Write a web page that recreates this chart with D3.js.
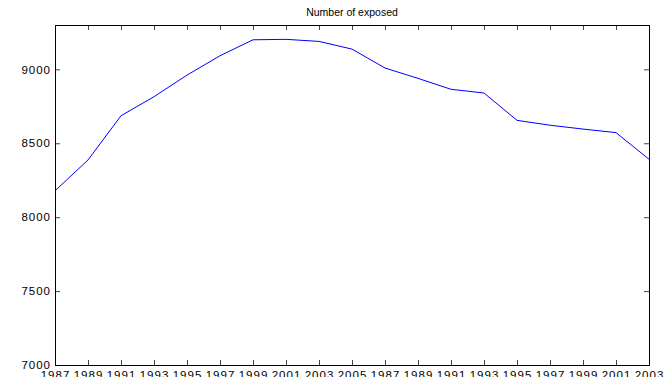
<!DOCTYPE html>
<html>
<head>
<meta charset="utf-8">
<script src="https://cdn.jsdelivr.net/npm/d3@7"></script>
<style>
  body { margin: 0; background: #fff; }
  svg text { font-family: "Liberation Sans", Arial, sans-serif; }
</style>
</head>
<body>
<div id="chart"></div>
<script>
const W = 663, H = 377;
const box = {left: 55, right: 649, top: 25, bottom: 365};

// tick labels (two runs of years) and the series
const years = ["1987","1989","1991","1993","1995","1997","1999","2001","2003","2005",
               "1987","1989","1991","1993","1995","1997","1999","2001","2003"];
const exposed = [8178, 8387, 8686, 8815, 8961, 9092, 9200, 9203, 9189, 9137,
                 9009, 8939, 8865, 8840, 8655, 8622, 8596, 8572, 8392];
const yTicks = [7000, 7500, 8000, 8500, 9000];
const title = "Number of exposed";

const svg = d3.select("#chart").append("svg")
    .attr("width", W)
    .attr("height", H);

const x = d3.scaleLinear()
    .domain([0, years.length - 1])
    .range([box.left, box.right]);

const y = d3.scaleLinear()
    .domain([7000, 9300])
    .range([box.bottom, box.top]);

const idx = d3.range(years.length);

// bottom axis with labels
const gx = svg.append("g")
    .attr("transform", "translate(0," + box.bottom + ")")
    .call(d3.axisBottom(x).tickValues(idx).tickSize(-5).tickPadding(6)
        .tickFormat(i => years[i]));

// top axis, ticks only
const gxt = svg.append("g")
    .attr("transform", "translate(0," + box.top + ")")
    .call(d3.axisTop(x).tickValues(idx).tickSize(-5).tickFormat(""));

// left axis with labels
const gy = svg.append("g")
    .attr("transform", "translate(" + box.left + ",0)")
    .call(d3.axisLeft(y).tickValues(yTicks).tickSize(-5).tickPadding(4)
        .tickFormat(d3.format("d")));

// right axis, ticks only
const gyr = svg.append("g")
    .attr("transform", "translate(" + box.right + ",0)")
    .call(d3.axisRight(y).tickValues(yTicks).tickSize(-5).tickFormat(""));

[gx, gxt, gy, gyr].forEach(g => {
    g.select(".domain").remove();
    g.selectAll(".tick line").attr("stroke", "#444");
    g.selectAll("text")
        .attr("fill", "#000")
        .attr("font-size", "11.5px")
        .attr("letter-spacing", "1px");
});

gx.selectAll("text").attr("dy", "0.71em");

// axis box
svg.append("rect")
    .attr("x", box.left)
    .attr("y", box.top)
    .attr("width", box.right - box.left)
    .attr("height", box.bottom - box.top)
    .attr("fill", "none")
    .attr("stroke", "#000")
    .attr("stroke-width", 1)
    .attr("shape-rendering", "crispEdges");

// the series
const line = d3.line()
    .x((d, i) => x(i))
    .y(d => y(d));

svg.append("path")
    .datum(exposed)
    .attr("d", line)
    .attr("fill", "none")
    .attr("stroke", "#0000ff")
    .attr("stroke-width", 1);

svg.append("text")
    .attr("x", (box.left + box.right) / 2)
    .attr("y", 16)
    .attr("text-anchor", "middle")
    .attr("font-size", "10.5px")
    .text(title);
</script>
</body>
</html>
